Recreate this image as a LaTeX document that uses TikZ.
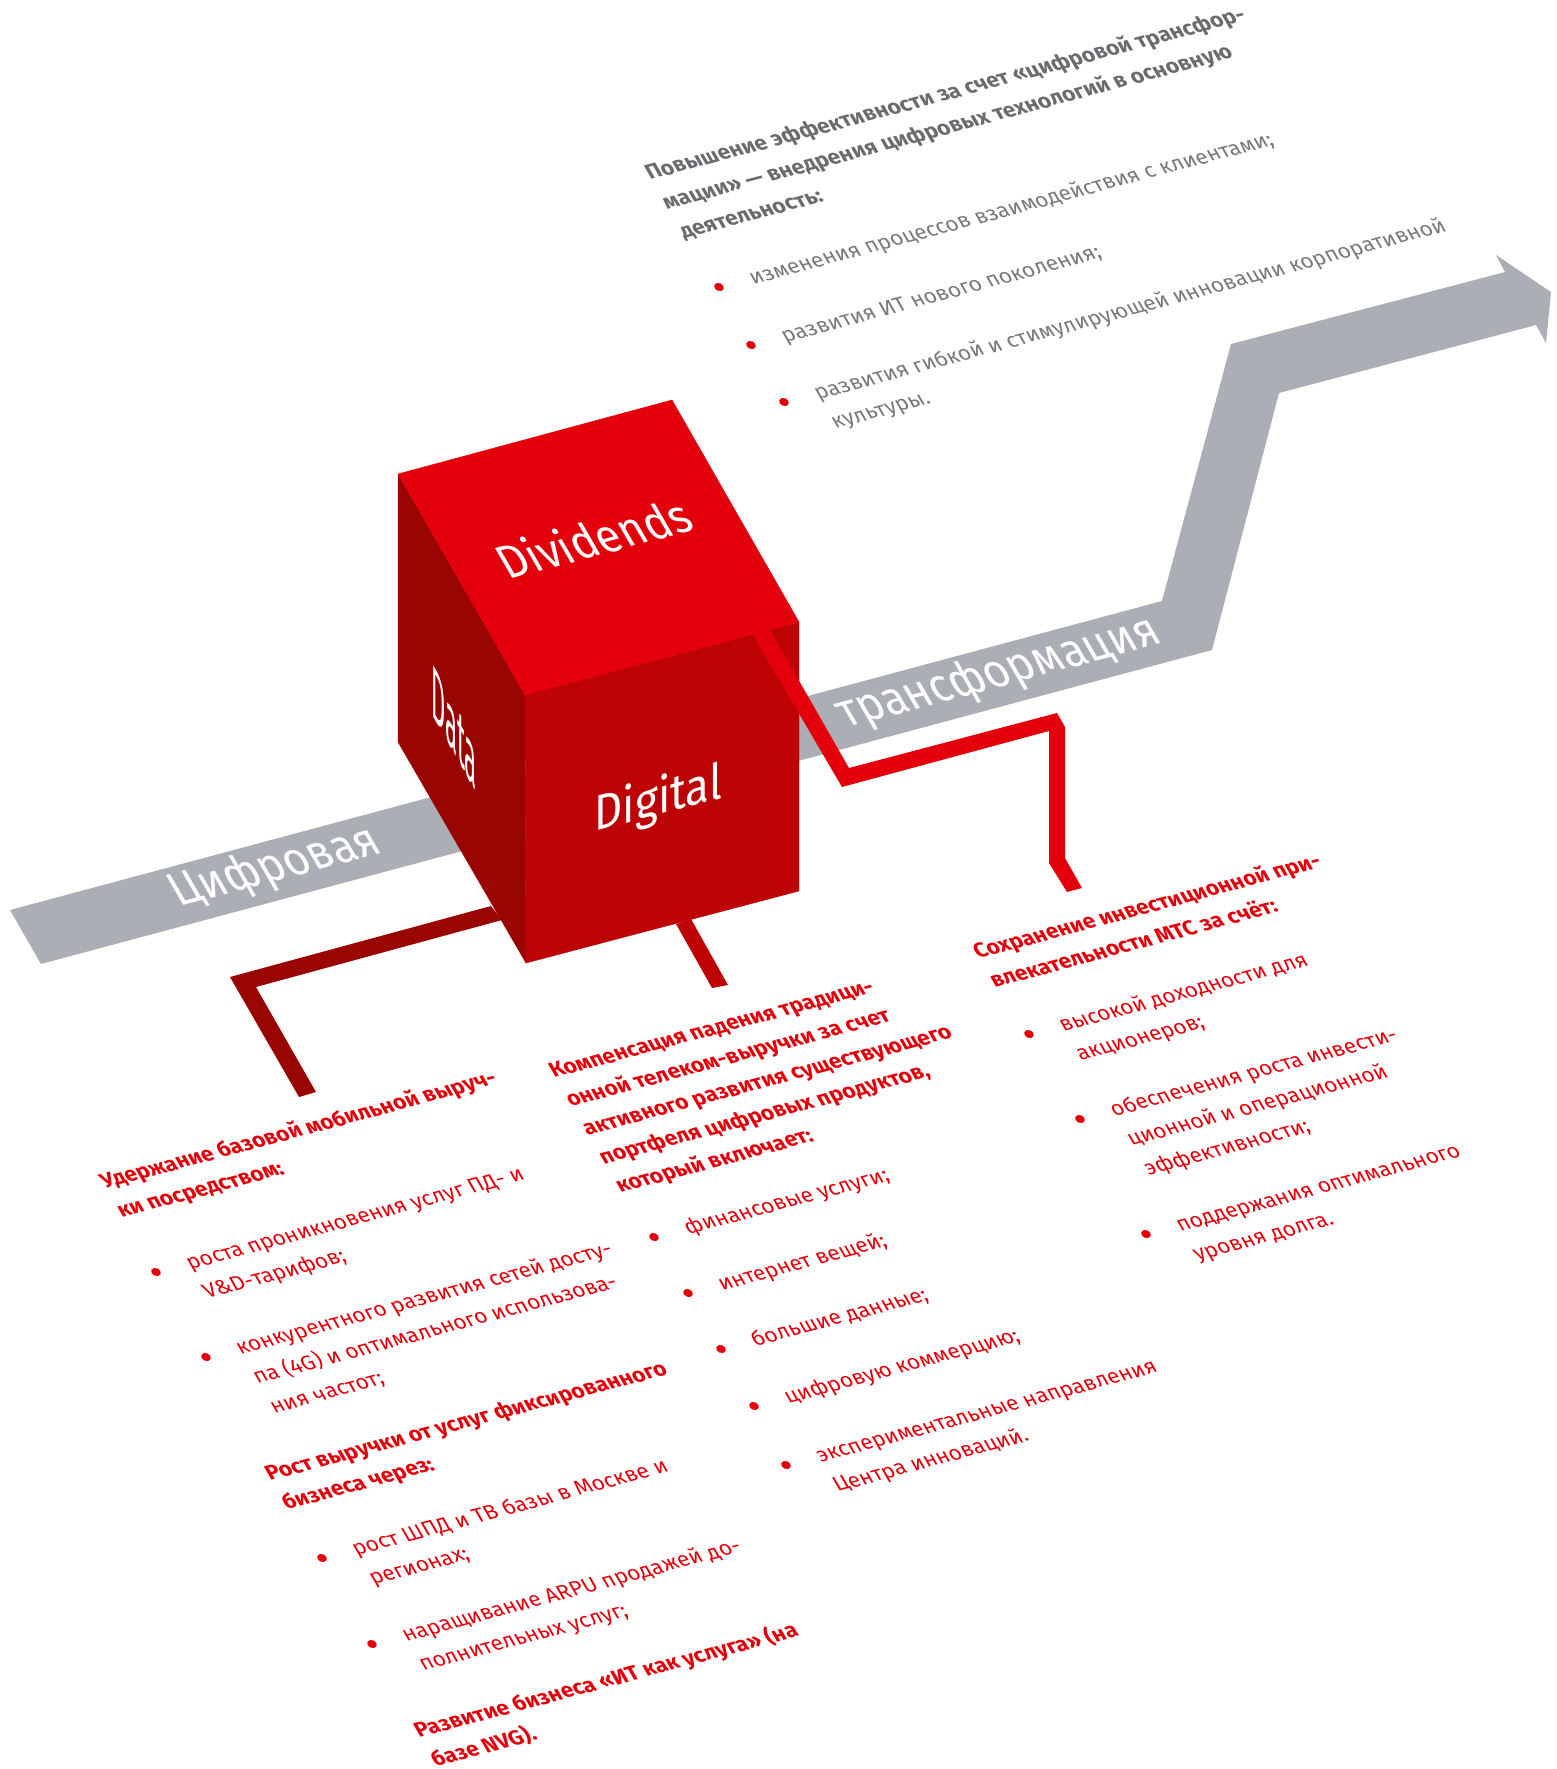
\documentclass[tikz,border=0pt]{standalone}
\usepackage{fontspec}
\setmainfont{Fira Sans}
\newfontfamily\thinfont{Fira Sans}
\definecolor{mtsred}{HTML}{E3000B}
\definecolor{midred}{HTML}{BD0304}
\definecolor{darkred}{HTML}{990500}
\definecolor{bandgrey}{HTML}{ABAEB5}
\definecolor{bodygrey}{HTML}{77797C}
\definecolor{headgrey}{HTML}{6A6B6E}
\newcommand\pln[6]{\begin{scope}[shift={(#2,#3)},cm={#4,(0,0)}]
\node[transform shape,anchor=base west,inner sep=0pt,#5] (#1) at (0,0) {#6};
\end{scope}}
\newcommand\blk[5]{\pln{#1}{#2}{#3}{.966,.259,-.5,.866}{#4}{\begin{tabular}[t]{@{}l@{}}#5\end{tabular}}}
\newcommand\itm[5]{%
\begin{scope}[shift={(#2,#3)},cm={.966,.259,-.5,.866,(0,0)}]
\node[transform shape,circle,fill=mtsred,minimum size=9pt,inner sep=0pt] (#1b) at (0,0) {};
\end{scope}
\pln{#1}{\fpeval{#2+34.5}}{\fpeval{#3-2.5}}{.966,.259,-.5,.866}{#4}{\begin{tabular}[t]{@{}l@{}}#5\end{tabular}}}
\tikzset{
 redbody/.style={text=mtsred,font=\fontsize{21.8}{34}\selectfont},
 redhead/.style={text=mtsred,font=\fontsize{22}{33.2}\selectfont\bfseries},
 greybody/.style={text=bodygrey,font=\fontsize{21.8}{34}\selectfont},
 greyhead/.style={text=headgrey,font=\fontsize{22}{34}\selectfont\bfseries},
 cubetext/.style={text=white,font=\fontsize{50}{60}\selectfont\thinfont},
 bandtext/.style={text=white,font=\fontsize{50}{60}\selectfont\thinfont},
 face/.style={line width=.4pt,line join=round},
}
\begin{document}
\begin{tikzpicture}[x=1pt,y=-1pt]
\useasboundingbox (0,0) rectangle (1557,1769);
% band
\fill[bandgrey] (10,910)--(1162,601)--(1231,344)--(1505,272)--(1496,255)--(1551,292)--(1546,343)--(1536,325)--(1279,393)--(1212,650)--(41,964)--cycle;
\pln{bandA}{179.6}{907}{.835,.224,-.5,.866}{bandtext}{Цифровая}
\pln{bandB}{846.4}{728}{.84,.225,-.5,.866}{bandtext}{трансформация}
% left connector
\fill[darkred] (491,906)--(230,977)--(299,1097)--(316,1092)--(256,987)--(502,920)--cycle;
% cube
\filldraw[face,fill=darkred,draw=darkred] (398,474)--(525,695)--(526,963)--(398,742)--cycle;
\filldraw[face,fill=midred,draw=midred] (525,695)--(799,622)--(799,891)--(526,963)--cycle;
\filldraw[face,fill=mtsred,draw=mtsred] (398,474)--(672,400)--(799,622)--(525,695)--cycle;
% middle connector
\fill[midred] (676,924)--(691,919)--(728,985)--(712,988)--cycle;
% right connector
\fill[mtsred] (753,635)--(842,787)--(1049,731)--(1049,863)--(1067,892)--(1082,888)--(1065,858)--(1065,727)--(1057,713)--(849,768)--(770,630)--cycle;
\pln{faceTop}{508}{580}{.84,.225,-.5,.866}{cubetext}{Dividends}
\pln{faceRight}{594.5}{832}{.876,.235,0,1}{cubetext}{Digital}
\pln{faceLeft}{431}{713}{.44,-.765,0,1.5}{cubetext}{Data}
% grey text
\blk{gh}{650}{180}{greyhead}{Повышение эффективности за счет «цифровой трансфор-\\мации» — внедрения цифровых технологий в основную\\деятельность:}
\itm{gi}{719}{287}{greybody}{изменения процессов взаимодействия с клиентами;}
\itm{gj}{751}{345}{greybody}{развития ИТ нового поколения;}
\itm{gk}{784}{402}{greybody}{развития гибкой и стимулирующей инновации корпоративной\\культуры.}
% left column
\blk{lh}{105}{1189}{redhead}{Удержание базовой мобильной выруч-\\ки посредством:}
\itm{li}{156}{1272}{redbody}{роста проникновения услуг ПД- и\\V\&D-тарифов;}
\itm{lj}{206}{1357}{redbody}{конкурентного развития сетей досту-\\па (4G) и оптимального использова-\\ния частот;}
\blk{lk}{270}{1481}{redhead}{Рост выручки от услуг фиксированного\\бизнеса через:}
\itm{ll}{322}{1558}{redbody}{рост ШПД и ТВ базы в Москве и\\регионах;}
\itm{lm}{372}{1644}{redbody}{наращивание ARPU продажей до-\\полнительных услуг;}
\blk{ln}{419}{1738}{redhead}{Развитие бизнеса «ИТ как услуга» (на\\базе NVG).}
% middle column
\blk{mh}{554}{1078}{redhead}{Компенсация падения традици-\\онной телеком-выручки за счет\\активного развития существующего\\портфеля цифровых продуктов,\\который включает:}
\itm{mi}{654}{1237}{redbody}{финансовые услуги;}
\itm{mj}{688}{1293}{redbody}{интернет вещей;}
\itm{mk}{721}{1349}{redbody}{большие данные;}
\itm{ml}{754}{1406}{redbody}{цифровую коммерцию;}
\itm{mm}{786}{1465}{redbody}{экспериментальные направления\\Центра инноваций.}
% right column
\blk{rh}{978}{959}{redhead}{Сохранение инвестиционной при-\\влекательности МТС за счёт:}
\itm{ri}{1029}{1034}{redbody}{высокой доходности для\\акционеров;}
\itm{rj}{1080}{1119}{redbody}{обеспечения роста инвести-\\ционной и операционной\\эффективности;}
\itm{rk}{1146}{1234}{redbody}{поддержания оптимального\\уровня долга.}
\end{tikzpicture}
\end{document}
